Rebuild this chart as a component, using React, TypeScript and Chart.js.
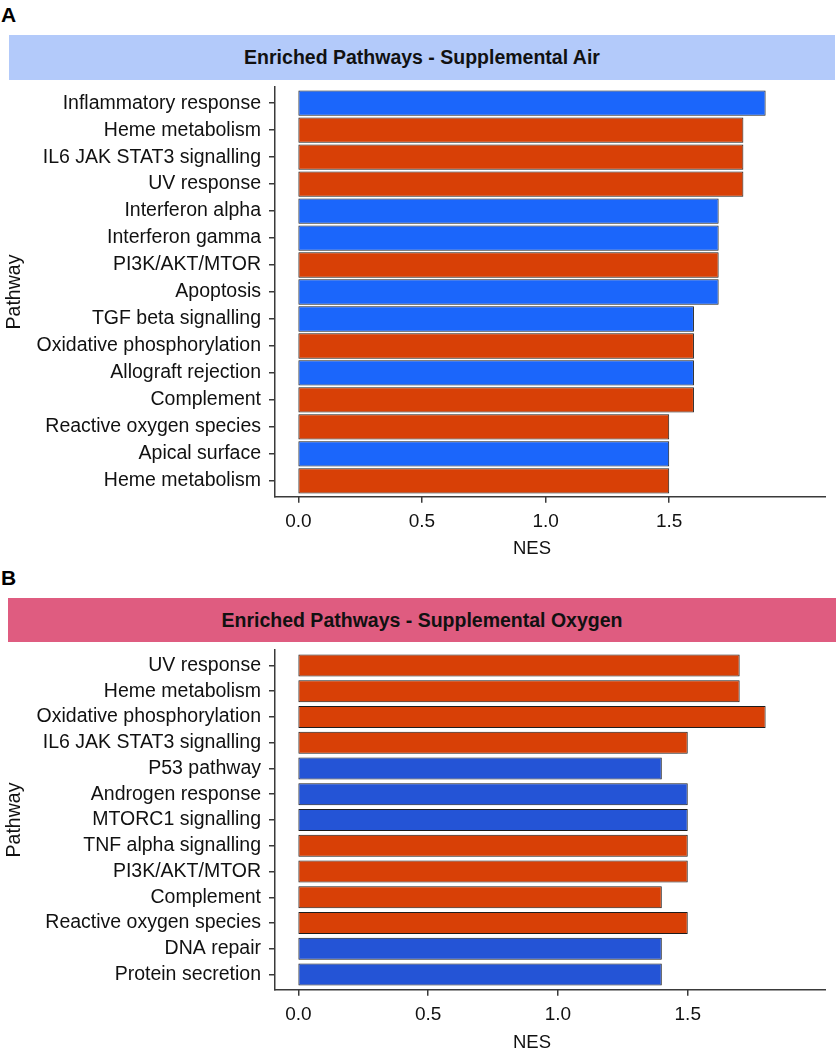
import React, { useEffect, useRef } from "react";
import { Chart, registerables } from "chart.js";

Chart.register(...registerables);

// ---------- DATA ----------
const airPathways = [
  "Inflammatory response",
  "Heme metabolism",
  "IL6 JAK STAT3 signalling",
  "UV response",
  "Interferon alpha",
  "Interferon gamma",
  "PI3K/AKT/MTOR",
  "Apoptosis",
  "TGF beta signalling",
  "Oxidative phosphorylation",
  "Allograft rejection",
  "Complement",
  "Reactive oxygen species",
  "Apical surface",
  "Heme metabolism",
];
const airNES = [1.89, 1.8, 1.8, 1.8, 1.7, 1.7, 1.7, 1.7, 1.6, 1.6, 1.6, 1.6, 1.5, 1.5, 1.5];
const airGroup = ["B", "O", "O", "O", "B", "B", "O", "B", "B", "O", "B", "O", "O", "B", "O"];

const oxyPathways = [
  "UV response",
  "Heme metabolism",
  "Oxidative phosphorylation",
  "IL6 JAK STAT3 signalling",
  "P53 pathway",
  "Androgen response",
  "MTORC1 signalling",
  "TNF alpha signalling",
  "PI3K/AKT/MTOR",
  "Complement",
  "Reactive oxygen species",
  "DNA repair",
  "Protein secretion",
];
const oxyNES = [1.7, 1.7, 1.8, 1.5, 1.4, 1.5, 1.5, 1.5, 1.5, 1.4, 1.5, 1.4, 1.4];
const oxyGroup = ["O", "O", "O", "O", "B", "B", "B", "O", "O", "O", "O", "B", "B"];

const nesTicks = [0, 0.5, 1.0, 1.5];

// ---------- STYLE ----------
const FONT = '"Liberation Sans", Arial, Helvetica, sans-serif';
const TEXT = "#111111";
const AXIS = "#3a3a3a";
const airColors: Record<string, string> = { B: "#1b66fb", O: "#d84006" };
const oxyColors: Record<string, string> = { B: "#2454d6", O: "#d84006" };

type PanelProps = {
  cats: string[];
  vals: number[];
  groups: string[];
  colors: Record<string, string>;
  top: number;
  height: number;
  xAxisHeight: number;
  barPct: number;
  titlePadBottom: number;
};

function alignPx(p: number, w: number) {
  return Math.round(p - w / 2) + w / 2;
}

// x axis line (drawn across the panel and a little beyond it, as in the figure) and its tick marks
const xAxisLine = {
  id: "xAxisLine",
  afterDraw(chart: any) {
    const xs = chart.scales.x;
    const area = chart.chartArea;
    const ctx = chart.ctx;
    const w = 1.5;
    const y = alignPx(xs.top, w);
    ctx.save();
    // clean strip to the right of the panel before drawing the extended axis line
    ctx.fillStyle = "#ffffff";
    ctx.fillRect(area.right - 3, y - 8, 840 - (area.right - 3), 17);
    ctx.strokeStyle = AXIS;
    ctx.lineWidth = w;
    ctx.lineCap = "butt";
    ctx.beginPath();
    ctx.moveTo(area.left - 0.75, y);
    ctx.lineTo(826, y);
    ctx.stroke();
    ctx.beginPath();
    for (const v of nesTicks) {
      const x = alignPx(xs.getPixelForValue(v), w);
      ctx.moveTo(x, y);
      ctx.lineTo(x, y + 6);
    }
    ctx.stroke();
    ctx.restore();
  },
};

function Panel(p: PanelProps) {
  const ref = useRef<HTMLCanvasElement | null>(null);
  useEffect(() => {
    if (!ref.current) return;
    const vmax = Math.max(...p.vals);
    const pad = vmax * 0.05;
    const n = p.cats.length;
    const chart = new Chart(ref.current, {
      type: "bar",
      data: {
        datasets: [
          {
            data: p.cats.map((_, i) => ({ x: p.vals[i], y: i })),
            backgroundColor: p.groups.map((g) => p.colors[g]),
            borderColor: "#1c1c1c",
            borderWidth: 1,
            borderSkipped: false,
            barPercentage: p.barPct,
            categoryPercentage: 1,
          } as any,
        ],
      },
      options: {
        indexAxis: "y",
        responsive: false,
        animation: false,
        devicePixelRatio: 1,
        layout: { padding: { top: 5, right: 51, left: 0, bottom: 0 } },
        plugins: { legend: { display: false }, tooltip: { enabled: false } },
        scales: {
          x: {
            type: "linear",
            offset: false,
            min: -pad,
            max: vmax + pad,
            afterBuildTicks: (s: any) => {
              s.ticks = nesTicks.map((v) => ({ value: v }));
            },
            afterFit: (s: any) => {
              s.height = p.xAxisHeight;
              s.paddingLeft = 0;
              s.paddingRight = 0;
              s.paddingTop = 0;
              s.paddingBottom = 0;
            },
            ticks: {
              callback: (v: any) => Number(v).toFixed(1),
              font: { family: FONT, size: 19 },
              color: TEXT,
              padding: 7,
              maxRotation: 0,
              autoSkip: false,
            },
            grid: { display: false, drawTicks: true, tickLength: 6 },
            border: { display: false },
            title: {
              display: true,
              text: "NES",
              font: { family: FONT, size: 18.5 },
              color: TEXT,
              padding: { top: 0, bottom: p.titlePadBottom },
            },
          },
          y: {
            type: "linear",
            offset: false,
            reverse: true,
            min: -0.6,
            max: n - 1 + 0.6,
            afterBuildTicks: (s: any) => {
              s.ticks = p.cats.map((_, i) => ({ value: i }));
            },
            afterFit: (s: any) => {
              s.width = 275;
              s.paddingLeft = 0;
              s.paddingRight = 0;
              s.paddingTop = 0;
              s.paddingBottom = 0;
            },
            ticks: {
              callback: (v: any) => p.cats[v as number],
              font: { family: FONT, size: 19.5 },
              color: TEXT,
              padding: 8,
              autoSkip: false,
            },
            grid: { offset: false, drawOnChartArea: false, drawTicks: true, tickLength: 6, color: AXIS, lineWidth: 1.5 },
            border: { display: true, color: AXIS, width: 1.5 },
            title: {
              display: true,
              text: "Pathway",
              font: { family: FONT, size: 19.5 },
              color: TEXT,
              padding: { top: 3, bottom: 0 },
            },
          },
        },
      } as any,
      plugins: [xAxisLine],
    });
    return () => chart.destroy();
  }, []);
  return (
    <canvas
      ref={ref}
      width={840}
      height={p.height}
      style={{ position: "absolute", left: 0, top: p.top, width: 840, height: p.height }}
    />
  );
}

function Banner(props: { text: string; left: number; top: number; width: number; height: number; bg: string }) {
  return (
    <div
      style={{
        position: "absolute",
        left: props.left,
        top: props.top,
        width: props.width,
        height: props.height,
        background: props.bg,
        display: "flex",
        alignItems: "center",
        justifyContent: "center",
        fontFamily: FONT,
        fontWeight: "bold",
        fontSize: 19.5,
        color: TEXT,
      }}
    >
      {props.text}
    </div>
  );
}

function PanelLetter(props: { text: string; top: number }) {
  return (
    <div
      style={{
        position: "absolute",
        left: 1,
        top: props.top,
        fontFamily: FONT,
        fontWeight: "bold",
        fontSize: 21,
        lineHeight: "21px",
        color: "#000",
      }}
    >
      {props.text}
    </div>
  );
}

export default function App() {
  return (
    <div style={{ position: "absolute", left: 0, top: 0, width: 840, height: 1055, background: "#fff", overflow: "hidden" }}>
      <PanelLetter text="A" top={4} />
      <Banner text="Enriched Pathways - Supplemental Air" left={9} top={35} width={826} height={45} bg="#b3cafa" />
      <Panel
        cats={airPathways}
        vals={airNES}
        groups={airGroup}
        colors={airColors}
        top={82}
        height={478}
        xAxisHeight={63}
        barPct={0.94}
        titlePadBottom={0}
      />
      <PanelLetter text="B" top={567} />
      <Banner text="Enriched Pathways - Supplemental Oxygen" left={8} top={598} width={828} height={44} bg="#df5c80" />
      <Panel
        cats={oxyPathways}
        vals={oxyNES}
        groups={oxyGroup}
        colors={oxyColors}
        top={645}
        height={410}
        xAxisHeight={65}
        barPct={0.86}
        titlePadBottom={1}
      />
    </div>
  );
}
